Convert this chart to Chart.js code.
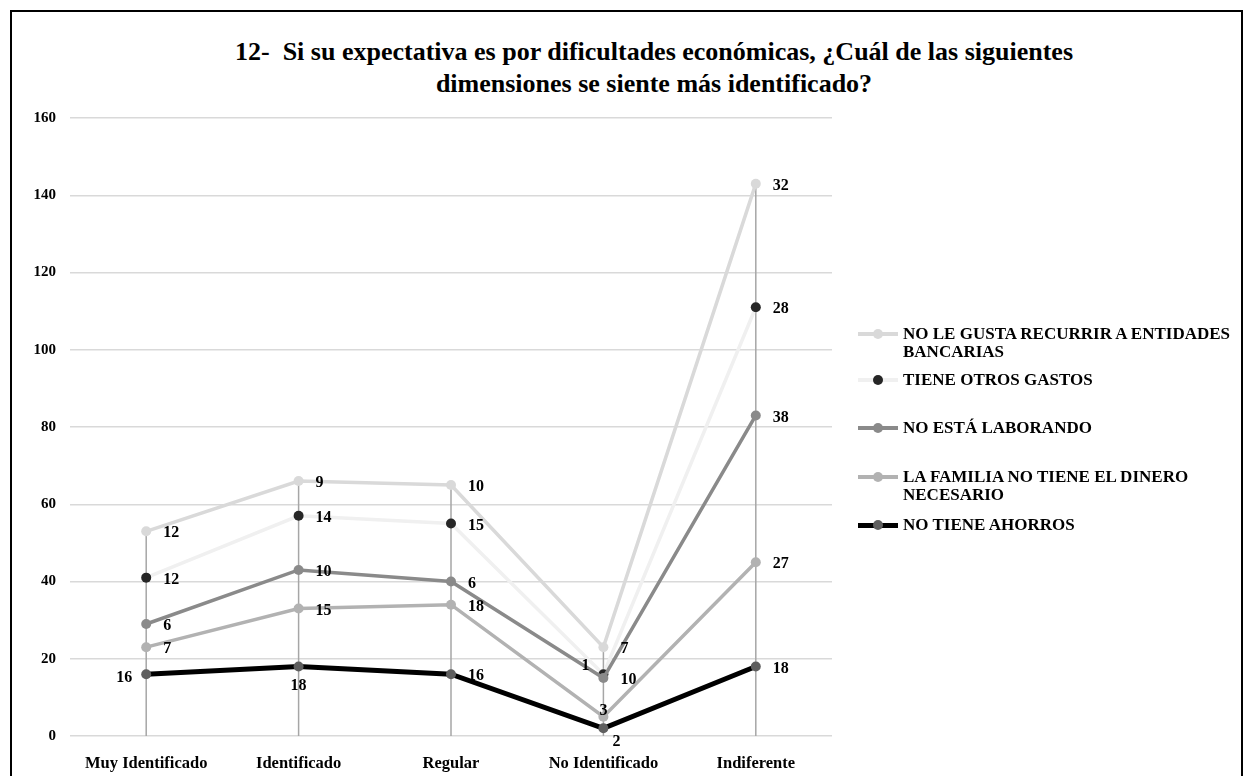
<!DOCTYPE html>
<html>
<head>
<meta charset="utf-8">
<script src="https://cdn.jsdelivr.net/npm/chart.js@4.4.1/dist/chart.umd.min.js"></script>
<style>
  body { margin: 0; background: #fff; font-family: "Liberation Serif", "Times New Roman", serif; }
  #frame { position: absolute; left: 10px; top: 10px; width: 1233px; height: 790px; border: 2px solid #000; box-sizing: border-box; }
  #title { position: absolute; left: 154px; width: 1000px; top: 36px; text-align: center; font-weight: bold; font-size: 26px; line-height: 32px; color: #000; }
  #wrap { position: absolute; left: 12px; top: 12px; width: 1224px; height: 764px; }
  .leg { position: absolute; left: 858px; width: 380px; font-weight: bold; font-size: 17px; line-height: 18px; color: #000; }
  .leg .txt { margin-left: 45px; width: 335px; }
  .leg .ln { position: absolute; left: 0; width: 40px; }
  .leg .dot { position: absolute; left: 15px; width: 10px; height: 10px; border-radius: 50%; }
</style>
</head>
<body>
<div id="frame"></div>
<div id="title">12-&nbsp; Si su expectativa es por dificultades económicas, ¿Cuál de las siguientes<br>dimensiones se siente más identificado?</div>
<div id="wrap"><canvas id="chart"></canvas></div>
<div id="legend"></div>
<script>
const categories = ['Muy Identificado', 'Identificado', 'Regular', 'No Identificado', 'Indiferente'];
const yTicks = [0, 20, 40, 60, 80, 100, 120, 140, 160];

// series, bottom of the stack first
const noTieneAhorros = [16, 18, 16, 2, 18];
const laFamilia = [7, 15, 18, 3, 27];
const noEstaLaborando = [6, 10, 6, 10, 38];
const tieneOtrosGastos = [12, 14, 15, 1, 28];
const noLeGusta = [12, 9, 10, 7, 32];

const seriesNames = [
  'NO TIENE AHORROS',
  'LA FAMILIA NO TIENE EL DINERO NECESARIO',
  'NO ESTÁ LABORANDO',
  'TIENE OTROS GASTOS',
  'NO LE GUSTA RECURRIR A ENTIDADES BANCARIAS'
];

const styles = [
  { line: '#000000', point: '#5f5f5f', width: 5, pos: ['l', 'b', 'r', 'rb', 'r'] },
  { line: '#b2b2b2', point: '#b2b2b2', width: 3.5, pos: ['r', 'r', 'r', 't', 'r'] },
  { line: '#8a8a8a', point: '#8a8a8a', width: 3.5, pos: ['r', 'r', 'r', 'r', 'r'] },
  { line: '#f0f0f0', point: '#262626', width: 3.5, pos: ['r', 'r', 'r', 'l', 'r'] },
  { line: '#d9d9d9', point: '#d9d9d9', width: 3.5, pos: ['r', 'r', 'r', 'r', 'r'] }
];

const seriesData = [noTieneAhorros, laFamilia, noEstaLaborando, tieneOtrosGastos, noLeGusta];

const datasets = seriesData.map((d, i) => ({
  label: seriesNames[i],
  data: d,
  borderColor: styles[i].line,
  backgroundColor: styles[i].point,
  pointBackgroundColor: styles[i].point,
  pointBorderColor: styles[i].point,
  pointRadius: 5,
  pointBorderWidth: 0,
  borderWidth: styles[i].width,
  tension: 0,
  fill: false
}));

const dropLines = {
  id: 'dropLines',
  beforeDatasetsDraw(chart) {
    const ctx = chart.ctx;
    const top = chart.getDatasetMeta(chart.data.datasets.length - 1);
    ctx.save();
    ctx.strokeStyle = '#a6a6a6';
    ctx.lineWidth = 1.5;
    top.data.forEach(pt => {
      ctx.beginPath();
      ctx.moveTo(pt.x, pt.y);
      ctx.lineTo(pt.x, chart.chartArea.bottom);
      ctx.stroke();
    });
    ctx.restore();
  }
};

const valueLabels = {
  id: 'valueLabels',
  afterDatasetsDraw(chart) {
    const ctx = chart.ctx;
    ctx.save();
    ctx.font = 'bold 16px "Liberation Serif", serif';
    ctx.fillStyle = '#000';
    ctx.textBaseline = 'middle';
    chart.data.datasets.forEach((ds, i) => {
      const meta = chart.getDatasetMeta(i);
      meta.data.forEach((pt, j) => {
        const txt = String(ds.data[j]);
        const p = styles[i].pos[j];
        if (p === 'r') { ctx.textAlign = 'left'; ctx.fillText(txt, pt.x + 17, pt.y + 2); }
        else if (p === 'rb') { ctx.textAlign = 'left'; ctx.fillText(txt, pt.x + 9, pt.y + 14); }
        else if (p === 'l') { ctx.textAlign = 'right'; ctx.fillText(txt, pt.x - 14, pt.y - (i === 0 ? -4 : 8)); }
        else if (p === 'b') { ctx.textAlign = 'center'; ctx.fillText(txt, pt.x, pt.y + 19); }
        else if (p === 't') { ctx.textAlign = 'center'; ctx.fillText(txt, pt.x, pt.y - 6); }
      });
    });
    ctx.restore();
  }
};

const chart = new Chart(document.getElementById('chart').getContext('2d'), {
  type: 'line',
  data: { labels: categories, datasets: datasets },
  options: {
    responsive: true,
    maintainAspectRatio: false,
    animation: false,
    layout: { padding: { top: 106, right: 404, left: 0, bottom: 0 } },
    plugins: {
      legend: { display: false },
      title: { display: false },
      tooltip: { enabled: false }
    },
    scales: {
      x: {
        offset: true,
        grid: { display: false },
        border: { display: false },
        ticks: { color: '#000', font: { family: '"Liberation Serif", serif', size: 16.5, weight: 'bold' }, padding: 10 },
        afterFit(scale) { scale.height = 40; }
      },
      y: {
        stacked: true,
        min: yTicks[0],
        max: yTicks[yTicks.length - 1],
        afterBuildTicks(scale) { scale.ticks = yTicks.map(v => ({ value: v })); },
        grid: { color: '#d9d9d9', lineWidth: 1.5, drawTicks: false },
        border: { display: false },
        ticks: { color: '#000', font: { family: '"Liberation Serif", serif', size: 15, weight: 'bold' }, padding: 14 },
        afterFit(scale) { scale.width = 58; }
      }
    }
  },
  plugins: [dropLines, valueLabels]
});

// legend, top entry first like the original
const legendTops = [325, 371, 419, 468, 516];
const legend = document.getElementById('legend');
seriesNames.slice().reverse().forEach((name, k) => {
  const i = seriesNames.length - 1 - k;
  const item = document.createElement('div');
  item.className = 'leg';
  item.style.top = legendTops[k] + 'px';
  const ln = document.createElement('div');
  ln.className = 'ln';
  ln.style.height = styles[i].width + 'px';
  ln.style.top = (9 - styles[i].width / 2) + 'px';
  ln.style.background = styles[i].line;
  const dot = document.createElement('div');
  dot.className = 'dot';
  dot.style.top = '4px';
  dot.style.background = styles[i].point;
  const txt = document.createElement('div');
  txt.className = 'txt';
  txt.textContent = name;
  item.appendChild(ln);
  item.appendChild(dot);
  item.appendChild(txt);
  legend.appendChild(item);
});
</script>
</body>
</html>
